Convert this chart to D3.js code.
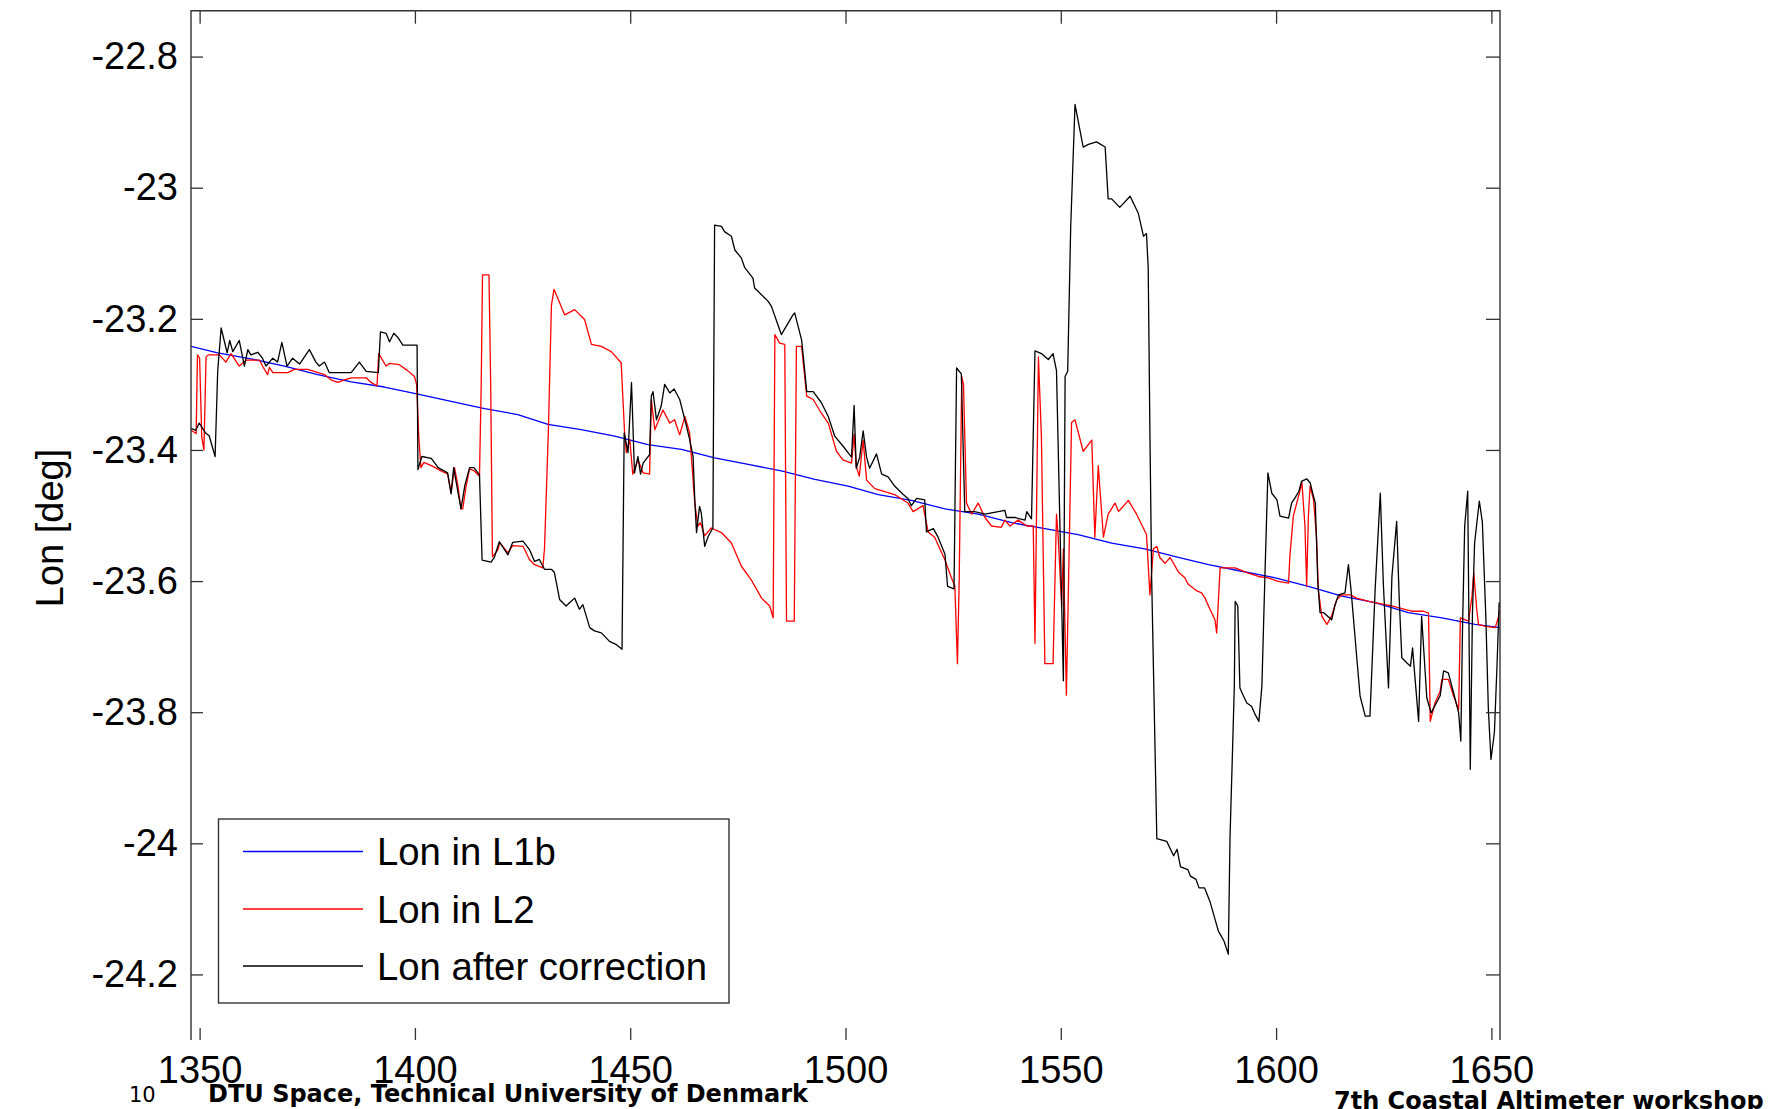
<!DOCTYPE html>
<html>
<head>
<meta charset="utf-8">
<script src="https://cdn.jsdelivr.net/npm/d3@7"></script>
<style>
  body { margin: 0; background: #fff; }
  svg { display: block; }
  text { font-family: "Liberation Sans", Arial, sans-serif; fill: #000; }
</style>
</head>
<body>
<div id="chart"></div>
<script>
// axis ticks
var xTicks = [1350, 1400, 1450, 1500, 1550, 1600, 1650];
var yTicks = [-22.8, -23, -23.2, -23.4, -23.6, -23.8, -24, -24.2];
var yTickLabels = ["-22.8", "-23", "-23.2", "-23.4", "-23.6", "-23.8", "-24", "-24.2"];

var seriesNames = ["Lon in L1b", "Lon in L2", "Lon after correction"];

// Lon in L1b (blue)
var lonL1b = [
  [1348.0,-23.242],[1354.2,-23.252],[1361.9,-23.261],[1369.7,-23.272],[1377.4,-23.285],
  [1385.2,-23.296],[1392.9,-23.304],[1400.7,-23.315],[1408.4,-23.326],[1416.2,-23.337],
  [1423.9,-23.346],[1430.9,-23.361],[1438.6,-23.369],[1446.4,-23.379],[1454.1,-23.392],
  [1461.9,-23.399],[1469.6,-23.412],[1477.4,-23.422],[1485.1,-23.432],[1492.9,-23.445],
  [1500.6,-23.455],[1507.6,-23.468],[1515.3,-23.477],[1523.1,-23.490],[1530.8,-23.498],
  [1538.6,-23.511],[1546.3,-23.520],[1554.0,-23.529],[1561.8,-23.542],[1569.5,-23.551],
  [1577.3,-23.564],[1584.3,-23.575],[1592.0,-23.585],[1599.8,-23.595],[1607.5,-23.608],
  [1615.3,-23.623],[1623.0,-23.633],[1630.7,-23.648],[1638.5,-23.656],[1646.2,-23.666],
  [1652.0,-23.671]
];

// Lon in L2 (red)
var lonL2 = [
  [1348.0,-23.370],[1349.2,-23.375],[1349.5,-23.255],[1350.0,-23.260],[1350.5,-23.380],
  [1351.0,-23.400],[1351.5,-23.258],[1352.0,-23.255],[1354.6,-23.255],[1356.1,-23.266],
  [1357.3,-23.253],[1359.2,-23.272],[1360.8,-23.263],[1363.9,-23.263],[1364.6,-23.272],
  [1365.8,-23.285],[1366.2,-23.274],[1367.0,-23.282],[1370.5,-23.282],[1372.0,-23.277],
  [1375.1,-23.277],[1376.6,-23.280],[1379.0,-23.285],[1380.5,-23.293],[1382.1,-23.297],
  [1383.6,-23.293],[1385.2,-23.290],[1388.7,-23.290],[1389.8,-23.297],[1391.2,-23.302],
  [1391.6,-23.253],[1393.3,-23.272],[1394.1,-23.268],[1396.4,-23.270],[1398.3,-23.279],
  [1399.9,-23.288],[1400.4,-23.300],[1400.9,-23.380],[1401.4,-23.427],[1402.1,-23.419],
  [1403.8,-23.424],[1406.1,-23.432],[1407.6,-23.437],[1408.4,-23.465],[1409.2,-23.427],
  [1410.0,-23.455],[1410.7,-23.490],[1411.1,-23.490],[1411.9,-23.455],[1412.7,-23.429],
  [1413.8,-23.432],[1415.0,-23.440],[1415.4,-23.300],[1415.7,-23.133],[1417.2,-23.133],
  [1417.6,-23.300],[1418.0,-23.563],[1419.3,-23.552],[1419.7,-23.541],[1421.6,-23.557],
  [1422.7,-23.546],[1425.1,-23.547],[1426.6,-23.567],[1427.8,-23.575],[1429.7,-23.580],
  [1430.1,-23.550],[1431.0,-23.370],[1431.7,-23.180],[1432.3,-23.155],[1434.8,-23.194],
  [1437.1,-23.186],[1439.4,-23.201],[1441.0,-23.239],[1443.3,-23.242],[1445.6,-23.250],
  [1447.9,-23.267],[1448.7,-23.374],[1449.1,-23.404],[1449.9,-23.384],[1450.6,-23.437],
  [1451.8,-23.415],[1453.0,-23.435],[1454.5,-23.437],[1454.9,-23.323],[1455.7,-23.369],
  [1457.6,-23.339],[1459.2,-23.359],[1460.3,-23.354],[1461.5,-23.377],[1462.7,-23.349],
  [1463.8,-23.374],[1465.0,-23.481],[1465.7,-23.516],[1466.3,-23.511],[1467.3,-23.531],
  [1468.8,-23.519],[1471.2,-23.526],[1473.5,-23.542],[1475.8,-23.577],[1478.1,-23.598],
  [1480.5,-23.626],[1482.4,-23.638],[1483.2,-23.656],[1483.6,-23.224],[1484.7,-23.237],
  [1485.9,-23.239],[1486.3,-23.661],[1488.1,-23.661],[1488.6,-23.242],[1489.8,-23.242],
  [1491.0,-23.318],[1492.5,-23.323],[1494.4,-23.344],[1496.0,-23.359],[1497.9,-23.402],
  [1499.4,-23.415],[1501.4,-23.420],[1502.0,-23.376],[1502.5,-23.425],[1503.2,-23.440],
  [1504.1,-23.385],[1504.9,-23.446],[1506.8,-23.459],[1511.4,-23.468],[1514.5,-23.481],
  [1515.7,-23.494],[1518.0,-23.485],[1519.2,-23.525],[1520.7,-23.533],[1523.1,-23.568],
  [1524.6,-23.595],[1525.4,-23.608],[1526.0,-23.726],[1526.4,-23.600],[1527.0,-23.288],
  [1527.4,-23.300],[1528.1,-23.481],[1529.3,-23.498],[1530.8,-23.481],[1532.4,-23.503],
  [1533.9,-23.516],[1536.2,-23.518],[1537.0,-23.507],[1538.2,-23.516],[1540.1,-23.507],
  [1542.1,-23.516],[1543.6,-23.516],[1544.0,-23.695],[1544.8,-23.258],[1545.5,-23.380],
  [1546.3,-23.726],[1548.2,-23.726],[1549.0,-23.498],[1549.4,-23.533],[1550.2,-23.638],
  [1550.6,-23.551],[1551.3,-23.774],[1552.5,-23.358],[1553.3,-23.354],[1555.2,-23.402],
  [1557.2,-23.385],[1557.9,-23.533],[1558.7,-23.424],[1559.9,-23.533],[1561.0,-23.498],
  [1562.6,-23.481],[1563.4,-23.494],[1565.7,-23.477],[1567.6,-23.498],[1569.9,-23.529],
  [1570.7,-23.621],[1571.5,-23.551],[1572.3,-23.547],[1573.0,-23.564],[1574.2,-23.573],
  [1575.4,-23.564],[1577.3,-23.586],[1578.8,-23.595],[1579.6,-23.605],[1581.6,-23.615],
  [1582.7,-23.618],[1583.5,-23.626],[1584.3,-23.638],[1585.0,-23.648],[1585.8,-23.659],
  [1586.2,-23.679],[1586.6,-23.630],[1587.0,-23.580],[1590.5,-23.580],[1593.2,-23.587],
  [1595.9,-23.593],[1598.2,-23.595],[1600.2,-23.600],[1602.9,-23.603],[1603.2,-23.562],
  [1604.0,-23.501],[1605.2,-23.471],[1606.0,-23.450],[1606.7,-23.516],[1607.1,-23.608],
  [1607.5,-23.501],[1607.9,-23.455],[1608.7,-23.476],[1609.4,-23.534],[1609.8,-23.613],
  [1610.6,-23.653],[1611.8,-23.666],[1612.9,-23.653],[1614.1,-23.628],[1615.3,-23.621],
  [1617.2,-23.621],[1618.7,-23.626],[1621.5,-23.631],[1623.0,-23.633],[1625.3,-23.636],
  [1626.9,-23.638],[1629.2,-23.642],[1631.5,-23.646],[1634.2,-23.646],[1635.4,-23.649],
  [1635.8,-23.814],[1636.9,-23.786],[1638.1,-23.768],[1638.5,-23.750],[1640.0,-23.750],
  [1641.2,-23.775],[1642.4,-23.796],[1642.8,-23.656],[1644.7,-23.661],[1645.5,-23.623],
  [1645.9,-23.587],[1646.6,-23.643],[1647.0,-23.666],[1648.6,-23.669],[1650.9,-23.671],
  [1651.7,-23.653],[1652.0,-23.643]
];

// Lon after correction (black)
var lonCorr = [
  [1348.0,-23.367],[1349.1,-23.370],[1349.9,-23.359],[1350.7,-23.367],[1351.5,-23.375],
  [1352.2,-23.378],[1353.6,-23.410],[1354.2,-23.280],[1355.0,-23.214],[1356.4,-23.252],
  [1357.0,-23.233],[1357.7,-23.250],[1359.2,-23.233],[1360.4,-23.272],[1361.2,-23.247],
  [1361.9,-23.255],[1363.5,-23.251],[1364.6,-23.260],[1365.4,-23.272],[1367.0,-23.260],
  [1368.1,-23.266],[1369.1,-23.236],[1370.3,-23.272],[1371.6,-23.260],[1373.2,-23.269],
  [1375.5,-23.247],[1377.0,-23.266],[1377.8,-23.272],[1379.0,-23.266],[1380.1,-23.282],
  [1385.2,-23.282],[1387.1,-23.266],[1388.7,-23.280],[1391.5,-23.282],[1392.0,-23.220],
  [1393.3,-23.222],[1394.1,-23.235],[1395.1,-23.222],[1396.0,-23.228],[1397.2,-23.240],
  [1400.5,-23.240],[1400.7,-23.430],[1401.6,-23.410],[1403.8,-23.413],[1405.4,-23.427],
  [1407.6,-23.435],[1408.4,-23.467],[1409.0,-23.427],[1409.8,-23.457],[1410.7,-23.490],
  [1411.6,-23.454],[1412.7,-23.427],[1413.7,-23.427],[1415.0,-23.438],[1415.6,-23.568],
  [1417.7,-23.571],[1418.5,-23.563],[1419.6,-23.540],[1421.6,-23.560],[1422.7,-23.541],
  [1425.1,-23.539],[1426.6,-23.552],[1427.8,-23.570],[1428.9,-23.567],[1430.1,-23.582],
  [1431.7,-23.582],[1432.4,-23.587],[1433.6,-23.628],[1435.1,-23.638],[1435.9,-23.633],
  [1437.1,-23.626],[1438.2,-23.643],[1439.0,-23.636],[1440.6,-23.671],[1441.7,-23.676],
  [1443.3,-23.679],[1445.2,-23.692],[1446.8,-23.697],[1448.1,-23.704],[1448.6,-23.374],
  [1449.5,-23.404],[1450.3,-23.297],[1451.0,-23.435],[1451.8,-23.410],[1452.4,-23.437],
  [1453.0,-23.420],[1454.5,-23.407],[1454.9,-23.318],[1455.3,-23.311],[1456.1,-23.354],
  [1457.2,-23.333],[1458.0,-23.300],[1459.2,-23.313],[1460.2,-23.307],[1461.5,-23.323],
  [1462.7,-23.354],[1463.8,-23.384],[1464.6,-23.410],[1465.0,-23.476],[1465.4,-23.526],
  [1466.1,-23.486],[1466.5,-23.496],[1467.3,-23.547],[1468.1,-23.532],[1469.2,-23.519],
  [1469.6,-23.057],[1471.2,-23.059],[1471.9,-23.067],[1473.5,-23.074],[1474.3,-23.095],
  [1475.8,-23.107],[1476.6,-23.122],[1478.5,-23.138],[1478.9,-23.153],[1482.0,-23.173],
  [1482.8,-23.181],[1485.1,-23.224],[1487.8,-23.194],[1488.2,-23.191],[1489.8,-23.232],
  [1490.2,-23.257],[1491.0,-23.311],[1492.5,-23.311],[1494.4,-23.328],[1496.0,-23.349],
  [1497.5,-23.379],[1499.4,-23.394],[1501.4,-23.411],[1502.0,-23.332],[1502.5,-23.428],
  [1503.3,-23.411],[1504.1,-23.371],[1504.9,-23.411],[1505.6,-23.428],[1507.2,-23.406],
  [1508.4,-23.437],[1509.9,-23.441],[1511.4,-23.455],[1513.4,-23.468],[1514.5,-23.474],
  [1515.3,-23.485],[1516.5,-23.474],[1518.4,-23.476],[1518.8,-23.525],[1520.4,-23.520],
  [1521.5,-23.533],[1523.1,-23.559],[1523.7,-23.608],[1525.2,-23.612],[1525.8,-23.275],
  [1526.9,-23.284],[1527.7,-23.494],[1530.0,-23.494],[1532.4,-23.498],[1537.0,-23.492],
  [1537.4,-23.503],[1539.3,-23.503],[1541.7,-23.507],[1542.1,-23.494],[1543.2,-23.505],
  [1544.0,-23.249],[1545.5,-23.253],[1547.1,-23.262],[1548.2,-23.253],[1549.0,-23.279],
  [1550.6,-23.752],[1551.0,-23.288],[1551.6,-23.280],[1552.3,-23.060],[1553.3,-22.873],
  [1555.2,-22.938],[1556.4,-22.934],[1558.3,-22.930],[1560.3,-22.938],[1561.0,-23.017],
  [1561.8,-23.017],[1563.7,-23.030],[1566.1,-23.013],[1568.0,-23.039],[1569.2,-23.074],
  [1569.9,-23.070],[1570.3,-23.122],[1570.7,-23.376],[1571.1,-23.595],[1572.3,-23.993],
  [1574.6,-23.997],[1576.2,-24.019],[1577.0,-24.009],[1577.8,-24.036],[1579.5,-24.040],
  [1580.1,-24.050],[1581.4,-24.055],[1582.1,-24.068],[1583.4,-24.068],[1584.7,-24.090],
  [1586.6,-24.134],[1587.9,-24.149],[1588.9,-24.169],[1589.3,-23.991],[1589.8,-23.877],
  [1590.3,-23.760],[1590.5,-23.631],[1591.1,-23.638],[1591.6,-23.763],[1592.4,-23.775],
  [1593.2,-23.786],[1594.3,-23.791],[1595.1,-23.803],[1596.0,-23.814],[1596.7,-23.760],
  [1597.4,-23.593],[1598.1,-23.435],[1599.0,-23.466],[1600.2,-23.476],[1600.9,-23.501],
  [1602.9,-23.504],[1603.6,-23.481],[1604.4,-23.473],[1605.3,-23.463],[1605.9,-23.448],
  [1607.1,-23.444],[1607.9,-23.450],[1608.7,-23.471],[1609.1,-23.481],[1609.7,-23.603],
  [1610.2,-23.648],[1611.0,-23.648],[1612.9,-23.659],[1613.7,-23.636],[1614.5,-23.621],
  [1616.0,-23.618],[1616.8,-23.575],[1617.4,-23.613],[1618.7,-23.714],[1619.5,-23.775],
  [1620.7,-23.806],[1621.8,-23.806],[1623.0,-23.613],[1624.2,-23.466],[1624.9,-23.603],
  [1626.1,-23.763],[1626.9,-23.593],[1628.0,-23.509],[1628.6,-23.628],[1629.2,-23.717],
  [1630.4,-23.725],[1631.2,-23.730],[1631.7,-23.702],[1632.1,-23.735],[1633.1,-23.814],
  [1633.8,-23.654],[1635.0,-23.778],[1636.0,-23.801],[1638.1,-23.775],[1638.9,-23.737],
  [1640.0,-23.740],[1641.2,-23.770],[1642.4,-23.801],[1642.9,-23.844],[1643.3,-23.670],
  [1643.8,-23.516],[1644.5,-23.463],[1645.1,-23.887],[1645.6,-23.650],[1646.1,-23.542],
  [1647.2,-23.478],[1647.9,-23.510],[1648.7,-23.653],[1649.3,-23.796],[1649.9,-23.872],
  [1650.7,-23.831],[1651.3,-23.730],[1651.8,-23.633],[1652.0,-23.640]
];

var width = 1776, height = 1109;
var plot = {left: 191, right: 1500, top: 10.7, bottom: 1040};

var svg = d3.select("#chart")
    .append("svg")
        .attr("width", width)
        .attr("height", height);

svg.append("rect")
    .attr("width", width)
    .attr("height", height)
    .attr("fill", "#fff");

var x = d3.scaleLinear()
    .domain([1348, 1652])
    .range([plot.left, plot.right]);

var y = d3.scaleLinear()
    .domain([-24.3, -22.73])
    .range([plot.bottom, plot.top]);

svg.append("clipPath")
    .attr("id", "clip")
  .append("rect")
    .attr("x", plot.left)
    .attr("y", plot.top)
    .attr("width", plot.right - plot.left)
    .attr("height", plot.bottom - plot.top);

var line = d3.line()
    .x(function(d) { return x(d[0]); })
    .y(function(d) { return y(d[1]); });

var series = [
    {data: lonL1b, color: "#0000ff"},
    {data: lonL2, color: "#ff0000"},
    {data: lonCorr, color: "#000000"}
];

svg.append("g")
    .attr("clip-path", "url(#clip)")
  .selectAll("path")
    .data(series)
    .enter()
    .append("path")
        .attr("d", function(d) { return line(d.data); })
        .attr("fill", "none")
        .attr("stroke", function(d) { return d.color; })
        .attr("stroke-width", 1.3)
        .attr("stroke-linejoin", "round");

// axes (ticks point inward, matlab style)
var axisColor = "#333";

var axL = svg.append("g")
    .attr("transform", "translate(" + plot.left + ",0)")
    .call(d3.axisLeft(y)
        .tickValues(yTicks)
        .tickFormat(function(d, i) { return yTickLabels[i]; })
        .tickSizeInner(-12)
        .tickSizeOuter(0)
        .tickPadding(13));

var axR = svg.append("g")
    .attr("transform", "translate(" + plot.right + ",0)")
    .call(d3.axisRight(y)
        .tickValues(yTicks)
        .tickFormat("")
        .tickSizeInner(-14)
        .tickSizeOuter(0));

var axT = svg.append("g")
    .attr("transform", "translate(0," + plot.top + ")")
    .call(d3.axisTop(x)
        .tickValues(xTicks)
        .tickFormat("")
        .tickSizeInner(-13)
        .tickSizeOuter(0));

var axB = svg.append("g")
    .attr("transform", "translate(0," + plot.bottom + ")")
    .call(d3.axisBottom(x)
        .tickValues(xTicks)
        .tickFormat(d3.format("d"))
        .tickSizeInner(-12)
        .tickSizeOuter(0)
        .tickPadding(16));

[axL, axR, axT, axB].forEach(function(g) {
    g.select(".domain").remove();
    g.selectAll(".tick line")
        .attr("stroke", axisColor)
        .attr("stroke-width", 1.3);
    g.selectAll(".tick text")
        .attr("fill", "#000")
        .style("font-family", "'Liberation Sans', Arial, sans-serif")
        .style("font-size", "38px");
});

// frame: left, top, right (no bottom line visible in the original)
svg.append("path")
    .attr("d", "M" + plot.left + "," + plot.bottom + "V" + plot.top + "H" + plot.right + "V" + plot.bottom)
    .attr("fill", "none")
    .attr("stroke", axisColor)
    .attr("stroke-width", 1.4);

svg.append("text")
    .attr("transform", "translate(50,528)rotate(-90)")
    .attr("text-anchor", "middle")
    .attr("dy", "0.35em")
    .style("font-size", "38px")
    .text("Lon [deg]");

// legend
var legend = svg.append("g");

legend.append("rect")
    .attr("x", 218.5)
    .attr("y", 819)
    .attr("width", 510.5)
    .attr("height", 184)
    .attr("fill", "#fff")
    .attr("stroke", axisColor)
    .attr("stroke-width", 1.4);

var rowY = [851.5, 909, 966];

legend.selectAll("line")
    .data(series)
    .enter()
    .append("line")
        .attr("x1", 243)
        .attr("x2", 363)
        .attr("y1", function(d, i) { return rowY[i]; })
        .attr("y2", function(d, i) { return rowY[i]; })
        .attr("stroke", function(d) { return d.color; })
        .attr("stroke-width", 1.3);

legend.selectAll("text")
    .data(seriesNames)
    .enter()
    .append("text")
        .attr("x", 377)
        .attr("y", function(d, i) { return rowY[i]; })
        .attr("dy", "0.36em")
        .style("font-size", "38.3px")
        .text(function(d) { return d; });

// slide footer
svg.append("text")
    .attr("x", 129)
    .attr("y", 1102)
    .style("font-family", "'DejaVu Sans', Verdana, sans-serif")
    .style("font-size", "21px")
    .attr("fill", "#333")
    .text("10");

svg.append("text")
    .attr("x", 208)
    .attr("y", 1102)
    .style("font-family", "'DejaVu Sans', Verdana, sans-serif")
    .style("font-size", "24px")
    .style("font-weight", "bold")
    .text("DTU Space, Technical University of Denmark");

svg.append("text")
    .attr("x", 1334)
    .attr("y", 1109)
    .style("font-family", "'DejaVu Sans', Verdana, sans-serif")
    .style("font-size", "24px")
    .style("font-weight", "bold")
    .text("7th Coastal Altimeter workshop");
</script>
</body>
</html>
